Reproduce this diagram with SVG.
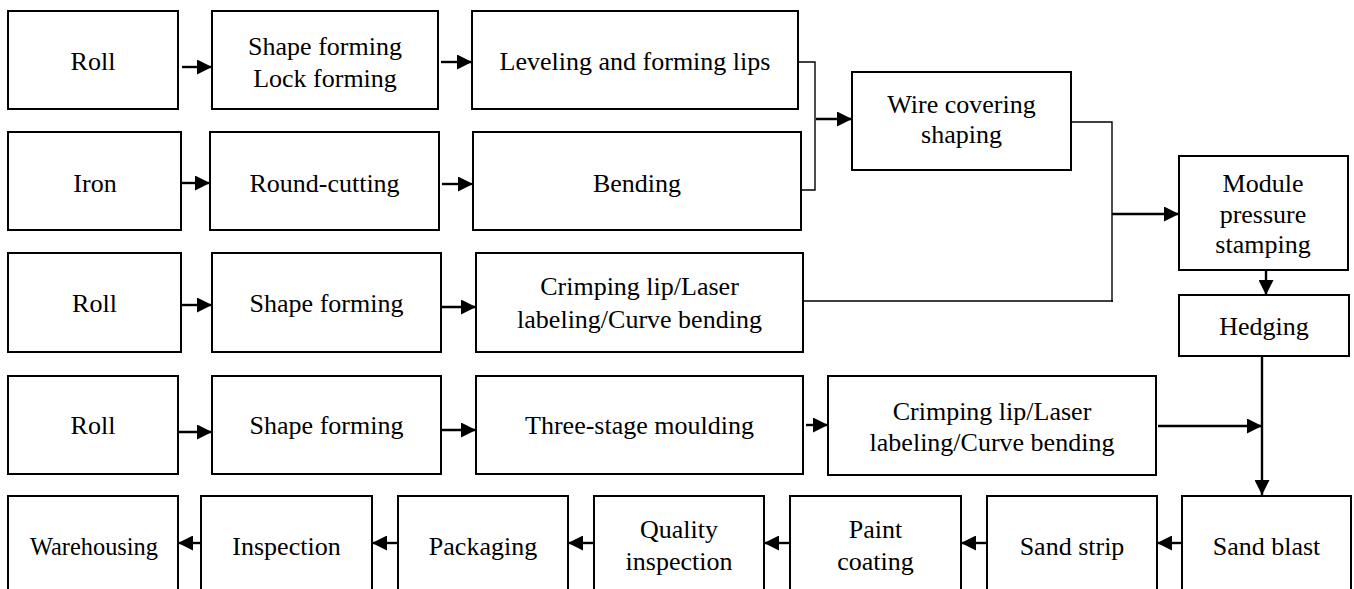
<svg xmlns="http://www.w3.org/2000/svg" width="1354" height="589" viewBox="0 0 1354 589">
<style>
.b{fill:#fff;stroke:#000;stroke-width:2}
.t{font-family:"Liberation Serif","Times New Roman",serif;font-size:26px;fill:#000;text-anchor:middle}
.a{fill:none;stroke:#000;stroke-width:2.4;marker-end:url(#ah)}
.l{fill:none;stroke:#000;stroke-width:1.4}
</style>
<defs>
<marker id="ah" markerUnits="userSpaceOnUse" markerWidth="15" markerHeight="15" refX="15" refY="7.5" orient="auto">
<path d="M0,0 L15,7.5 L0,15 z" fill="#000"/>
</marker>
</defs>
<rect width="1354" height="589" fill="#fff"/>
<g id="n-roll1"><rect class="b" x="8" y="11" width="170" height="98"/><text class="t" x="93" y="70">Roll</text></g>
<g id="n-shape-lock"><rect class="b" x="212" y="11" width="226" height="98"/><text class="t" x="325" y="55">Shape forming</text><text class="t" x="325" y="87">Lock forming</text></g>
<g id="n-leveling"><rect class="b" x="472" y="11" width="326" height="98"/><text class="t" x="635" y="70">Leveling and forming lips</text></g>
<g id="n-iron"><rect class="b" x="8" y="132" width="173" height="98"/><text class="t" x="95" y="192">Iron</text></g>
<g id="n-round"><rect class="b" x="210" y="132" width="229" height="98"/><text class="t" x="324.5" y="192">Round-cutting</text></g>
<g id="n-bending"><rect class="b" x="473" y="132" width="328" height="98"/><text class="t" x="637" y="192">Bending</text></g>
<g id="n-wire"><rect class="b" x="852" y="72" width="219" height="98"/><text class="t" x="961.5" y="113">Wire covering</text><text class="t" x="961.5" y="143">shaping</text></g>
<g id="n-module"><rect class="b" x="1179" y="156" width="169" height="114"/><text class="t" x="1263" y="192">Module</text><text class="t" x="1263" y="223">pressure</text><text class="t" x="1263" y="253">stamping</text></g>
<g id="n-hedging"><rect class="b" x="1179" y="295" width="170" height="61"/><text class="t" x="1264" y="335">Hedging</text></g>
<g id="n-roll3"><rect class="b" x="8" y="253" width="173" height="99"/><text class="t" x="94.5" y="312">Roll</text></g>
<g id="n-shape3"><rect class="b" x="212" y="253" width="229" height="99"/><text class="t" x="326.5" y="312">Shape forming</text></g>
<g id="n-crimp1"><rect class="b" x="476" y="253" width="327" height="99"/><text class="t" x="639.5" y="295">Crimping lip/Laser</text><text class="t" x="639.5" y="328">labeling/Curve bending</text></g>
<g id="n-roll4"><rect class="b" x="8" y="376" width="170" height="98"/><text class="t" x="93" y="434">Roll</text></g>
<g id="n-shape4"><rect class="b" x="212" y="376" width="229" height="98"/><text class="t" x="326.5" y="434">Shape forming</text></g>
<g id="n-three"><rect class="b" x="476" y="376" width="327" height="98"/><text class="t" x="639.5" y="434">Three-stage moulding</text></g>
<g id="n-crimp2"><rect class="b" x="828" y="376" width="328" height="99"/><text class="t" x="992" y="420">Crimping lip/Laser</text><text class="t" x="992" y="451">labeling/Curve bending</text></g>
<g id="n-warehousing"><rect class="b" x="8" y="496" width="170" height="110"/><text class="t" x="94" y="555" textLength="128" lengthAdjust="spacingAndGlyphs">Warehousing</text></g>
<g id="n-inspection"><rect class="b" x="201" y="496" width="171" height="110"/><text class="t" x="286.5" y="555">Inspection</text></g>
<g id="n-packaging"><rect class="b" x="398" y="496" width="170" height="110"/><text class="t" x="483" y="555">Packaging</text></g>
<g id="n-quality"><rect class="b" x="594" y="496" width="170" height="110"/><text class="t" x="679" y="538">Quality</text><text class="t" x="679" y="570">inspection</text></g>
<g id="n-paint"><rect class="b" x="790" y="496" width="171" height="110"/><text class="t" x="875.5" y="538">Paint</text><text class="t" x="875.5" y="570">coating</text></g>
<g id="n-sandstrip"><rect class="b" x="987" y="496" width="170" height="110"/><text class="t" x="1072" y="555">Sand strip</text></g>
<g id="n-sandblast"><rect class="b" x="1182" y="496" width="169" height="110"/><text class="t" x="1266.5" y="555">Sand blast</text></g>
<g id="connectors">
<path class="a" d="M182,67 H212"/>
<path class="a" d="M441,62 H472"/>
<path class="a" d="M182,183 H210"/>
<path class="a" d="M442,184 H473"/>
<path class="l" d="M798,62 H815 V190 H801"/>
<path class="a" d="M816,119 H852"/>
<path class="l" d="M1071,122 H1112 V302 M1113,301 H803"/>
<path class="a" d="M1112,214 H1179"/>
<path class="a" d="M1266,270 V295"/>
<path class="a" d="M182,305 H212"/>
<path class="a" d="M442,307 H476"/>
<path class="a" d="M179,432 H212"/>
<path class="a" d="M442,430 H476"/>
<path class="a" d="M806,425 H828"/>
<path class="a" d="M1158,426 H1262"/>
<path class="a" d="M1262,356 V495"/>
<path class="a" d="M1182,543 H1157"/>
<path class="a" d="M987,543 H961"/>
<path class="a" d="M790,543 H764"/>
<path class="a" d="M594,543 H568"/>
<path class="a" d="M398,543 H372"/>
<path class="a" d="M201,543 H178"/>
</g>
</svg>
